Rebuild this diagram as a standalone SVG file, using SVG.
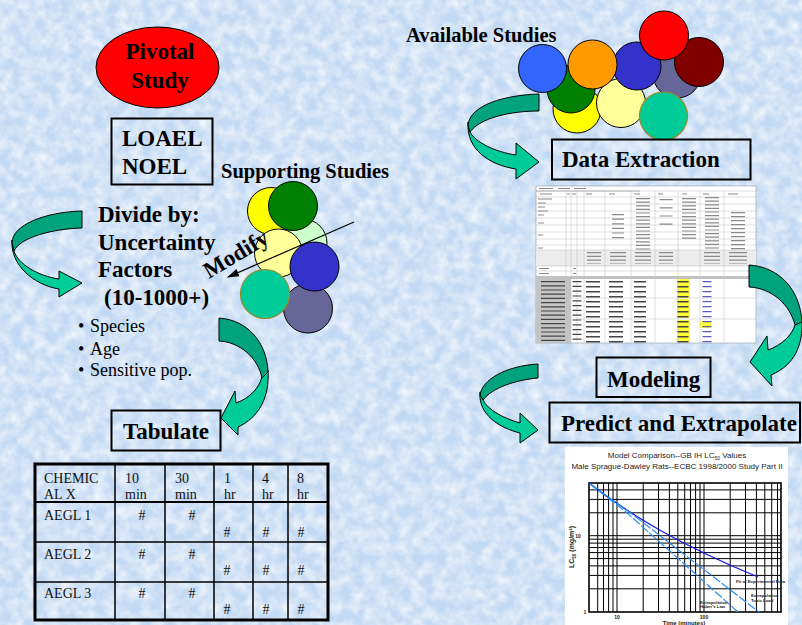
<svg xmlns="http://www.w3.org/2000/svg" width="802" height="625" viewBox="0 0 802 625">
<defs>
  <!-- tissue-paper texture for the page background -->
  <filter id="paper" filterUnits="userSpaceOnUse" x="0" y="0" width="802" height="625">
    <feTurbulence type="fractalNoise" baseFrequency="0.085" numOctaves="3" seed="7" result="n"/>
    <feColorMatrix in="n" type="matrix" values="0 0 0 0 1  0 0 0 0 1  0 0 0 0 1  1.3 0 0 0 -0.4"/>
  </filter>
  <filter id="soft" x="-2%" y="-2%" width="104%" height="104%">
    <feGaussianBlur stdDeviation="0.35"/>
  </filter>
  <marker id="mhead" viewBox="0 0 12 8" refX="11" refY="4" markerWidth="12" markerHeight="8" orient="auto" markerUnits="userSpaceOnUse">
    <path d="M0,0 L12,4 L0,8 Z" fill="#000"/>
  </marker>
  <style>
    .h{font-family:"Liberation Serif","Times New Roman",serif;font-weight:bold;font-size:23px;fill:#000}
    .h2{font-family:"Liberation Serif","Times New Roman",serif;font-weight:bold;font-size:20.5px;fill:#000}
    .bl{font-family:"Liberation Serif","Times New Roman",serif;font-size:18px;fill:#000}
    .td{font-family:"Liberation Serif","Times New Roman",serif;font-size:14px;fill:#111}
    .box{fill:none;stroke:#000;stroke-width:2}
    .c{stroke:#000;stroke-width:1}
    .ct{stroke:#9a8a2a;stroke-width:1.2}
    .dark{fill:#00a37c;stroke:#000;stroke-width:1}
    .light{fill:#00cc99;stroke:#000;stroke-width:1}
    .grid{stroke:#000;stroke-width:1;fill:none}
    .cs{font-family:"Liberation Sans",Arial,sans-serif;fill:#222}
    .sl{stroke:#bdbdbd;stroke-width:0.5;fill:none}
    .tx{fill:none;stroke:#8a8a8a}
    .tk{fill:none;stroke:#444}
  </style>
</defs>

<!-- background -->
<rect x="0" y="0" width="802" height="625" fill="#c2d9f3"/>
<rect x="0" y="0" width="802" height="625" filter="url(#paper)"/>

<!-- pivotal study -->
<g id="pivotal">
  <ellipse cx="157.5" cy="67.5" rx="61.5" ry="40.5" fill="#ff0000" class="c"/>
  <text class="h" x="160" y="59" text-anchor="middle">Pivotal</text>
  <text class="h" x="160" y="88" text-anchor="middle">Study</text>
</g>

<!-- LOAEL / NOEL -->
<g id="loael">
  <rect x="111.5" y="118.5" width="101" height="66" class="box"/>
  <text class="h" x="122" y="146">LOAEL</text>
  <text class="h" x="122" y="174">NOEL</text>
</g>

<!-- supporting studies cluster -->
<g id="supporting">
  <text class="h2" x="221" y="178">Supporting Studies</text>
  <circle cx="271" cy="211" r="23.5" fill="#ffff00" class="c"/>
  <circle cx="303" cy="243" r="24" fill="#ccffcc" class="c"/>
  <circle cx="293" cy="206" r="24.5" fill="#008000" class="c"/>
  <circle cx="278.5" cy="253" r="24" fill="#ffff99" class="c"/>
  <circle cx="308" cy="308.5" r="24.5" fill="#666699" class="c"/>
  <circle cx="314.5" cy="266.5" r="24.5" fill="#3333cc" class="c"/>
  <circle cx="265" cy="294" r="24.5" fill="#00cc99" class="ct"/>
</g>

<!-- divide by uncertainty factors -->
<g id="divide">
  <text class="h" x="98" y="222">Divide by:</text>
  <text class="h" x="98" y="250">Uncertainty</text>
  <text class="h" x="98" y="277">Factors</text>
  <text class="h" x="104" y="305">(10-1000+)</text>
</g>

<g id="factors">
  <text class="bl" x="78" y="332">•</text><text class="bl" x="90" y="332">Species</text>
  <text class="bl" x="78" y="355">•</text><text class="bl" x="90" y="355">Age</text>
  <text class="bl" x="78" y="376">•</text><text class="bl" x="90" y="376">Sensitive pop.</text>
</g>

<!-- tabulate -->
<g id="tabulate">
  <rect x="111.5" y="410.5" width="109" height="40" class="box"/>
  <text class="h" x="123" y="439">Tabulate</text>
</g>

<!-- AEGL table -->
<g id="aegl-table">
  <rect x="35" y="464" width="293" height="156" fill="none" stroke="#000" stroke-width="3"/>
  <path d="M35,502H328" stroke="#000" stroke-width="2.2"/>
  <path d="M35,542H328M35,582H328" stroke="#000" stroke-width="1.6"/>
  <path d="M115,464V620M165,464V620M214,464V620M253,464V620M288,464V620" stroke="#000" stroke-width="1.5"/>
  <text class="td" x="44" y="483">CHEMIC</text><text class="td" x="44" y="499">AL X</text>
  <text class="td" x="125" y="483">10</text><text class="td" x="125" y="499">min</text>
  <text class="td" x="175" y="483">30</text><text class="td" x="175" y="499">min</text>
  <text class="td" x="224" y="483">1</text><text class="td" x="224" y="499">hr</text>
  <text class="td" x="262" y="483">4</text><text class="td" x="262" y="499">hr</text>
  <text class="td" x="297" y="483">8</text><text class="td" x="297" y="499">hr</text>
  <text class="td" x="44" y="520">AEGL 1</text>
  <text class="td" x="44" y="559">AEGL 2</text>
  <text class="td" x="44" y="598">AEGL 3</text>
  <g text-anchor="middle">
    <text class="td" x="142" y="520">#</text><text class="td" x="192" y="520">#</text>
    <text class="td" x="227" y="537">#</text><text class="td" x="266" y="537">#</text><text class="td" x="301" y="537">#</text>
    <text class="td" x="142" y="559">#</text><text class="td" x="192" y="559">#</text>
    <text class="td" x="227" y="575">#</text><text class="td" x="266" y="575">#</text><text class="td" x="301" y="575">#</text>
    <text class="td" x="142" y="598">#</text><text class="td" x="192" y="598">#</text>
    <text class="td" x="227" y="614">#</text><text class="td" x="266" y="614">#</text><text class="td" x="301" y="614">#</text>
  </g>
</g>

<!-- available studies cluster -->
<g id="available">
  <text class="h2" x="406" y="42">Available Studies</text>
  <circle cx="577" cy="109" r="24" fill="#ffff00" class="c"/>
  <circle cx="571" cy="89" r="24" fill="#008000" class="c"/>
  <circle cx="542.5" cy="68.5" r="24" fill="#3366ff" class="c"/>
  <circle cx="677" cy="74" r="24" fill="#666699" class="c"/>
  <circle cx="621" cy="103" r="24.5" fill="#ffff99" class="c"/>
  <circle cx="637" cy="66" r="24" fill="#3333cc" class="c"/>
  <circle cx="592.5" cy="64.5" r="24.5" fill="#ff9900" class="c"/>
  <circle cx="699" cy="62" r="24.5" fill="#800000" class="c"/>
  <circle cx="664" cy="35.5" r="24.5" fill="#ff0000" class="c"/>
  <circle cx="663.5" cy="116" r="24" fill="#00cc99" class="ct"/>
</g>

<!-- data extraction -->
<g id="data-extraction">
  <rect x="552" y="139.5" width="198.5" height="40" class="box"/>
  <text class="h" x="562" y="167">Data Extraction</text>
</g>

<!-- extracted data sheet -->
<g id="data-sheet" filter="url(#soft)">
  <rect x="536" y="186" width="220" height="157" fill="#ffffff" stroke="#9a9a9a" stroke-width="0.6"/>
  <rect x="536" y="250" width="220" height="16" fill="#ececec"/>
  <rect x="536" y="276" width="220" height="3" fill="#c2c2c2"/>
  <rect x="536" y="279" width="35" height="64" fill="#c4c4c4"/>
  <rect x="677" y="279" width="13" height="19" fill="#ffff33"/>
  <rect x="677" y="299" width="13" height="19" fill="#ffff33"/>
  <rect x="677" y="320" width="13" height="22" fill="#ffff33"/>
  <rect x="700" y="321" width="11" height="7" fill="#ffff33"/>
  <!-- grid -->
  <path class="sl" d="M566,191V343M571,191V343M577,191V343M584,191V343M605,191V343M631,191V343M655,191V343M678,191V343M700,191V343M724,191V343"/>
  <path class="sl" d="M536,191H756M536,197H756M536,204H756M536,211H756M536,218H756M536,225H756M536,232H756M536,239H756M536,245H756M536,250H756M536,266H756M536,271H756M536,298H756M536,319H756"/>
  <path d="M536,191H640" stroke="#888" stroke-width="0.6"/>
  <!-- header labels -->
  <path class="tx" stroke-width="1.2" d="M539,188.5h14M558,188.5h12M574,188.5h12M540,194h12M567,194h3M572,194h4M586,194h6M609,194h6M634,194h6M658,194h5M682,194h5M703,194h6M728,194h10"/>
  <!-- upper block entries -->
  <path class="tx" stroke-width="1" d="M538,199h14M538,203h8M538,207h7M538,211h10M538,215h6M538,223h6M538,235h5M538,248h5"/>
  <line class="tx" x1="618" y1="214" x2="618" y2="240" stroke-width="12" stroke-dasharray="1.2 3.4"/>
  <line class="tx" x1="643" y1="198" x2="643" y2="250" stroke-width="14" stroke-dasharray="1.2 2.4"/>
  <line class="tx" x1="666" y1="199" x2="666" y2="226" stroke-width="13" stroke-dasharray="1.2 7"/>
  <line class="tx" x1="689" y1="198" x2="689" y2="240" stroke-width="14" stroke-dasharray="1.2 2.4"/>
  <line class="tx" x1="712" y1="197" x2="712" y2="250" stroke-width="14" stroke-dasharray="1.2 2.4"/>
  <line class="tx" x1="738" y1="212" x2="738" y2="250" stroke-width="14" stroke-dasharray="1.2 2.8"/>
  <!-- summary band -->
  <line class="tx" x1="594" y1="252" x2="594" y2="264" stroke-width="14" stroke-dasharray="1.2 2.6"/>
  <line class="tx" x1="618" y1="252" x2="618" y2="264" stroke-width="16" stroke-dasharray="1.2 2.6"/>
  <line class="tx" x1="643" y1="252" x2="643" y2="264" stroke-width="16" stroke-dasharray="1.2 2.6"/>
  <line class="tx" x1="666" y1="252" x2="666" y2="264" stroke-width="14" stroke-dasharray="1.2 2.6"/>
  <line class="tx" x1="712" y1="252" x2="712" y2="264" stroke-width="16" stroke-dasharray="1.2 2.6"/>
  <line class="tx" x1="738" y1="252" x2="738" y2="264" stroke-width="18" stroke-dasharray="1.2 2.6"/>
  <path class="tx" stroke-width="1" d="M539,268.5h10M539,273.5h10M573,268.5h3M573,273.5h3"/>
  <!-- lower block entries -->
  <line class="tk" x1="553" y1="281" x2="553" y2="342" stroke-width="24" stroke-dasharray="1.2 3"/>
  <line class="tk" x1="577" y1="281" x2="577" y2="343" stroke-width="9" stroke-dasharray="1.2 3.6"/>
  <line class="tk" x1="593" y1="281" x2="593" y2="343" stroke-width="14" stroke-dasharray="1.5 3.5"/>
  <line class="tk" x1="616" y1="281" x2="616" y2="343" stroke-width="14" stroke-dasharray="1.5 3.5"/>
  <line class="tk" x1="640" y1="281" x2="640" y2="343" stroke-width="12" stroke-dasharray="1.5 3.5"/>
  <line class="tk" x1="683" y1="281" x2="683" y2="343" stroke-width="11" stroke-dasharray="1.5 3.5"/>
  <line x1="707" y1="281" x2="707" y2="343" stroke="#5a5ab8" stroke-width="9" stroke-dasharray="1.2 3.8"/>
</g>

<!-- modeling -->
<g id="modeling">
  <rect x="596.5" y="357.5" width="114" height="39.5" class="box"/>
  <text class="h" x="607" y="387">Modeling</text>
</g>

<!-- predict and extrapolate -->
<g id="predict">
  <rect x="549.5" y="402.5" width="250.5" height="40" class="box"/>
  <text class="h" x="561" y="431">Predict and Extrapolate</text>
</g>

<!-- LC50 model comparison chart -->
<g id="chart">
  <rect x="565" y="447" width="223" height="178" fill="#ffffff"/>
  <text class="cs" x="677" y="458" font-size="8" text-anchor="middle">Model Comparison--GB IH LC<tspan font-size="5" dy="2">50</tspan><tspan dy="-2"> Values</tspan></text>
  <text class="cs" x="677" y="469" font-size="8" text-anchor="middle">Male Sprague-Dawley Rats--ECBC 1998/2000 Study Part II</text>
  <path class="grid" d="M597.7,483V612M603.5,483V612M608.6,483V612M613,483V612M617,483V612M643.2,483V612M658.5,483V612M669.4,483V612M677.8,483V612M684.7,483V612M690.5,483V612M695.6,483V612M700,483V612M704,483V612M730.2,483V612M745.5,483V612M756.4,483V612M764.8,483V612M771.7,483V612M777.5,483V612"/>
  <path class="grid" d="M589,588.8H781M589,575.4H781M589,565.9H781M589,558.6H781M589,552.6H781M589,547.5H781M589,543.1H781M589,539.2H781M589,535.7H781M589,512.8H781M589,499.4H781M589,489.9H781"/>
  <rect x="589" y="483" width="192" height="129" fill="none" stroke="#000" stroke-width="1.6"/>
  <path d="M589,483 C630,515 680,545 758,577" fill="none" stroke="#1a1ae0" stroke-width="1.3"/>
  <path d="M590,484 L626,512 L738,612" fill="none" stroke="#2a90f0" stroke-width="1.2" stroke-dasharray="9 2"/>
  <path d="M590,484 L628,511 L759,612" fill="none" stroke="#2a90f0" stroke-width="1.2" stroke-dasharray="9 2"/>
  <text class="cs" x="736" y="583" font-size="4.3" font-weight="bold">Fit of Experimental Data</text>
  <text class="cs" x="700" y="603.5" font-size="4.3" font-weight="bold">Extrapolation</text>
  <text class="cs" x="700" y="608" font-size="4.3" font-weight="bold">Haber's Law</text>
  <text class="cs" x="751" y="597" font-size="4.3" font-weight="bold">Extrapolation</text>
  <text class="cs" x="751" y="601.5" font-size="4.3" font-weight="bold">Toxic Load</text>
  <text class="cs" x="578" y="538" font-size="5" font-weight="bold" text-anchor="middle">10</text>
  <text class="cs" x="585" y="614" font-size="5" font-weight="bold" text-anchor="middle">1</text>
  <text class="cs" x="617" y="619" font-size="5" font-weight="bold" text-anchor="middle">10</text>
  <text class="cs" x="704" y="619" font-size="5" font-weight="bold" text-anchor="middle">100</text>
  <text class="cs" transform="translate(574,547) rotate(-90)" font-size="7" font-weight="bold" text-anchor="middle">LC<tspan font-size="4.5" dy="1.5">50</tspan><tspan dy="-1.5"> (mg/m³)</tspan></text>
  <text class="cs" x="684" y="624.5" font-size="6" font-weight="bold" text-anchor="middle">Time (minutes)</text>
</g>

<!-- connectors: curved ribbon arrows and the modify arrow -->
<g id="connectors">
  <!-- LOAEL to uncertainty factors -->
  <path class="light" d="M12,240 C10,265 34,285 59,289 L59,297 L82,283 L59,271 L59,279 C38,276 18,264 14,251 Z"/>
  <path class="dark" d="M82,211 C45,212 12,225 12,243 L14,251 C20,238 50,229 82,228 Z"/>
  <!-- factors to tabulate -->
  <path class="light" d="M268,370 C270,398 258,418 238,427 L238,435 L221,418 L235,391 L236,403 C250,398 259,388 262,377 Z"/>
  <path class="dark" d="M219,318 C248,320 267,343 268,372 L262,378 C258,358 240,342 219,341 Z"/>
  <!-- available studies to data extraction -->
  <path class="light" d="M468,122 C466,150 490,165 516,169 L516,179 L539,162 L516,143 L516,155 C495,152 475,142 470,132 Z"/>
  <path class="dark" d="M539,94 C505,95 470,105 468,125 L470,132 C480,118 510,111 539,111 Z"/>
  <!-- data sheet to modeling -->
  <path class="light" d="M802,320 C803,345 795,365 771,375 L772,386 L750,362 L767,336 L768,350 C782,345 792,335 795,325 Z"/>
  <path class="dark" d="M749,265 C780,267 800,290 802,322 L795,325 C790,305 772,288 749,287 Z"/>
  <!-- modeling to predict -->
  <path class="light" d="M480,392 C478,415 500,428 520,433 L520,443 L538,430 L520,413 L520,423 C503,418 488,410 483,400 Z"/>
  <path class="dark" d="M538,364 C505,366 482,380 480,395 L483,400 C492,388 515,380 538,378 Z"/>
  <!-- supporting studies modify the factors -->
  <line x1="354" y1="222" x2="228" y2="277" stroke="#000" stroke-width="1.2" marker-end="url(#mhead)"/>
  <text class="h" font-size="20.5" transform="translate(209,279) rotate(-31)">Modify</text>
</g>
</svg>
